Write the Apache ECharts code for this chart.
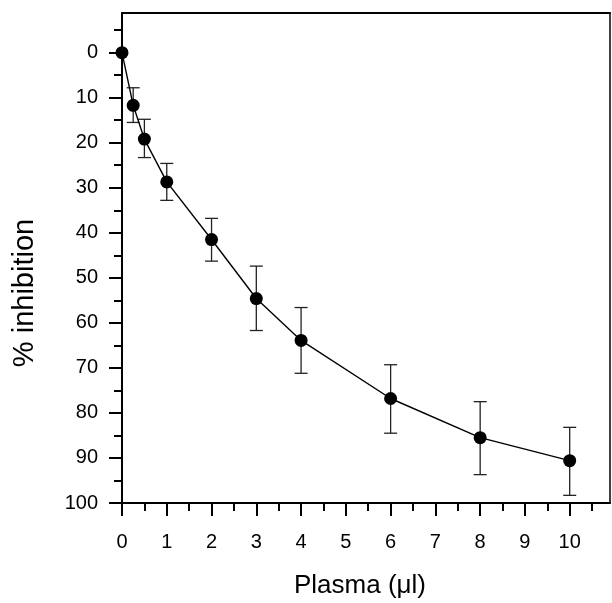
<!DOCTYPE html>
<html>
<head>
  <meta charset="utf-8">
  <title>% inhibition vs Plasma</title>
  <script src="https://cdn.jsdelivr.net/npm/echarts@6/dist/echarts.min.js"></script>
  <style>
    html, body { margin: 0; padding: 0; background: #fff; }
    #chart { width: 612px; height: 603px; }
  </style>
</head>
<body>
  <div id="chart"></div>
  <script>
    // data
    var plasma = [0, 0.25, 0.5, 1, 2, 3, 4, 6, 8, 10];
    var inhibition = [0, 11.7, 19.2, 28.7, 41.5, 54.6, 63.9, 76.8, 85.5, 90.6];
    var errLow = [null, 7.8, 14.8, 24.6, 36.8, 47.4, 56.6, 69.3, 77.5, 83.2];
    var errHigh = [null, 15.5, 23.3, 32.8, 46.3, 61.7, 71.2, 84.5, 93.7, 98.3];

    // tick labels
    var xMajor = [0, 1, 2, 3, 4, 5, 6, 7, 8, 9, 10];
    var xMinor = [0.5, 1.5, 2.5, 3.5, 4.5, 5.5, 6.5, 7.5, 8.5, 9.5, 10.5];
    var yMajor = [0, 10, 20, 30, 40, 50, 60, 70, 80, 90, 100];
    var yMinor = [-5, 5, 15, 25, 35, 45, 55, 65, 75, 85, 95];

    var X_MIN = 0, X_MAX = 10.9, Y_MIN = -8.8, Y_MAX = 100;
    var FONT = 'Liberation Sans, Arial, sans-serif';

    var chart = echarts.init(document.getElementById('chart'));

    var points = plasma.map(function (x, i) { return [x, inhibition[i]]; });
    var bars = [];
    plasma.forEach(function (x, i) {
      if (errLow[i] != null) bars.push([x, errLow[i], errHigh[i]]);
    });

    function hiddenAxis(extra) {
      var a = {
        type: 'value',
        axisLabel: { show: false },
        axisTick: { show: false },
        splitLine: { show: false },
        axisLine: { show: false, onZero: false }
      };
      for (var k in extra) a[k] = extra[k];
      return a;
    }

    var options = {
      backgroundColor: '#fff',
      animation: false,
      grid: { left: 122, right: 2, top: 13, bottom: 100, containLabel: false },
      xAxis: [
        {
          type: 'value', min: X_MIN, max: X_MAX, position: 'bottom',
          axisLine: { show: true, onZero: false, lineStyle: { color: '#000', width: 2 } },
          axisTick: { show: true, inside: false, length: 13, customValues: xMajor, lineStyle: { color: '#000', width: 2 } },
          axisLabel: { customValues: xMajor, margin: 29, color: '#000', fontSize: 20, fontFamily: FONT },
          splitLine: { show: false }
        },
        hiddenAxis({
          min: X_MIN, max: X_MAX, position: 'bottom',
          axisLine: { show: false, onZero: false },
          axisTick: { show: true, length: 8, customValues: xMinor, lineStyle: { color: '#000', width: 2 } }
        }),
        hiddenAxis({
          min: X_MIN, max: X_MAX, position: 'top',
          axisLine: { show: true, onZero: false, lineStyle: { color: '#000', width: 2 } }
        })
      ],
      yAxis: [
        {
          type: 'value', inverse: true, min: Y_MIN, max: Y_MAX, position: 'left',
          axisLine: { show: true, onZero: false, lineStyle: { color: '#000', width: 2 } },
          axisTick: { show: true, inside: false, length: 13, customValues: yMajor, lineStyle: { color: '#000', width: 2 } },
          axisLabel: { customValues: yMajor, margin: 24, color: '#000', fontSize: 20, fontFamily: FONT },
          splitLine: { show: false }
        },
        hiddenAxis({
          inverse: true, min: Y_MIN, max: Y_MAX, position: 'left',
          axisLine: { show: false, onZero: false },
          axisTick: { show: true, length: 8, customValues: yMinor, lineStyle: { color: '#000', width: 2 } }
        }),
        hiddenAxis({
          inverse: true, min: Y_MIN, max: Y_MAX, position: 'right',
          axisLine: { show: true, onZero: false, lineStyle: { color: '#000', width: 1.5 } }
        })
      ],
      graphic: [
        {
          type: 'text', x: 360, y: 573,
          style: { text: 'Plasma (\u03bcl)', fill: '#000', fontSize: 26, fontFamily: FONT, align: 'center', verticalAlign: 'top' }
        },
        {
          type: 'text', x: 25, y: 293, rotation: Math.PI / 2,
          style: { text: '% inhibition', fill: '#000', fontSize: 29, fontFamily: FONT, align: 'center', verticalAlign: 'middle' }
        }
      ],
      series: [
        {
          type: 'custom',
          xAxisIndex: 0, yAxisIndex: 0,
          data: bars,
          z: 1,
          renderItem: function (params, api) {
            var x = api.value(0);
            var top = api.coord([x, api.value(1)]);
            var bot = api.coord([x, api.value(2)]);
            var hw = 6.5;
            var st = { stroke: '#222', lineWidth: 1.3 };
            return {
              type: 'group',
              children: [
                { type: 'line', shape: { x1: top[0], y1: top[1], x2: bot[0], y2: bot[1] }, style: st },
                { type: 'line', shape: { x1: top[0] - hw, y1: top[1], x2: top[0] + hw, y2: top[1] }, style: st },
                { type: 'line', shape: { x1: bot[0] - hw, y1: bot[1], x2: bot[0] + hw, y2: bot[1] }, style: st }
              ]
            };
          }
        },
        {
          type: 'line',
          xAxisIndex: 0, yAxisIndex: 0,
          data: points,
          z: 2,
          symbol: 'circle',
          symbolSize: 13,
          itemStyle: { color: '#000' },
          lineStyle: { color: '#000', width: 1.4 }
        }
      ]
    };

    chart.setOption(options);
  </script>
</body>
</html>
